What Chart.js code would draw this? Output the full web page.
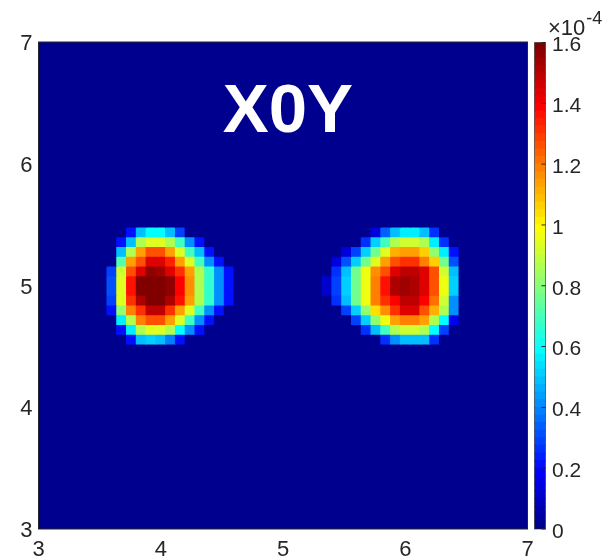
<!DOCTYPE html>
<html>
<head>
<meta charset="utf-8">
<script src="https://cdn.jsdelivr.net/npm/chart.js@4/dist/chart.umd.min.js"></script>
<style>
  body { margin: 0; background: #fff; }
  #wrap { position: relative; width: 605px; height: 559px; }
  #cbar { position: absolute; left: 527px; top: 0; }
</style>
</head>
<body>
<div id="wrap">
  <canvas id="heatmap" width="605" height="559"></canvas>
  <canvas id="cbar" width="78" height="559"></canvas>
</div>
<script>
// grid: 50 x 50 cells covering 3..7 on both axes, row 0 is the top row
const gridMin = 3;
const gridMax = 7;
const gridCount = 50;

const xTicks = [3, 4, 5, 6, 7];
const yTicks = [3, 4, 5, 6, 7];
const colorbarTicks = [0, 0.2, 0.4, 0.6, 0.8, 1, 1.2, 1.4, 1.6];
const colorMax = 1.6; // x 1e-4
const plotTitle = 'X0Y';

// left spot, values in 1e-4, rows 19..30, columns 7..19
const leftRowStart = 19;
const leftColStart = 7;
const leftValues = [
  [0, 0, 0.20, 0.48, 0.60, 0.60, 0.48, 0.30, 0, 0, 0, 0, 0],
  [0, 0.20, 0.48, 0.85, 0.93, 0.95, 0.85, 0.70, 0.42, 0.20, 0, 0, 0],
  [0, 0.48, 0.85, 1.15, 1.25, 1.25, 1.15, 0.95, 0.70, 0.48, 0.20, 0, 0],
  [0, 0.72, 1.15, 1.27, 1.43, 1.43, 1.33, 1.15, 0.95, 0.70, 0.40, 0.20, 0],
  [0.30, 0.90, 1.27, 1.45, 1.55, 1.53, 1.43, 1.32, 1.15, 0.87, 0.65, 0.40, 0.21],
  [0.32, 0.95, 1.35, 1.58, 1.60, 1.60, 1.55, 1.40, 1.17, 0.87, 0.65, 0.40, 0.21],
  [0.32, 0.95, 1.35, 1.58, 1.60, 1.60, 1.55, 1.40, 1.17, 0.87, 0.65, 0.40, 0.21],
  [0.30, 0.93, 1.32, 1.50, 1.58, 1.58, 1.50, 1.35, 1.15, 0.87, 0.65, 0.40, 0.21],
  [0.21, 0.80, 1.20, 1.30, 1.48, 1.48, 1.32, 1.15, 0.95, 0.70, 0.42, 0.20, 0],
  [0, 0.55, 0.85, 1.20, 1.25, 1.25, 1.15, 0.95, 0.70, 0.42, 0.20, 0, 0],
  [0, 0.20, 0.55, 0.85, 0.93, 0.93, 0.85, 0.60, 0.40, 0.20, 0, 0, 0],
  [0, 0, 0.20, 0.48, 0.50, 0.48, 0.38, 0.20, 0, 0, 0, 0, 0]
];

// right spot, rows 19..30, columns 29..42
const rightRowStart = 19;
const rightColStart = 29;
const rightValues = [
  [0, 0, 0, 0, 0, 0.15, 0.35, 0.48, 0.55, 0.55, 0.48, 0.25, 0, 0],
  [0, 0, 0, 0, 0.25, 0.50, 0.70, 0.85, 0.90, 0.90, 0.85, 0.55, 0.25, 0],
  [0, 0, 0.15, 0.30, 0.50, 0.75, 0.95, 1.12, 1.15, 1.15, 1.05, 0.82, 0.55, 0.20],
  [0, 0.15, 0.32, 0.50, 0.75, 0.95, 1.15, 1.27, 1.32, 1.32, 1.20, 1.05, 0.75, 0.32],
  [0, 0.25, 0.48, 0.75, 0.97, 1.17, 1.27, 1.43, 1.48, 1.48, 1.43, 1.27, 0.90, 0.48],
  [0.12, 0.30, 0.50, 0.75, 0.97, 1.20, 1.37, 1.51, 1.54, 1.51, 1.45, 1.27, 0.97, 0.50],
  [0.12, 0.30, 0.50, 0.75, 0.97, 1.20, 1.37, 1.51, 1.54, 1.51, 1.45, 1.27, 0.97, 0.50],
  [0, 0.27, 0.48, 0.75, 0.97, 1.20, 1.32, 1.40, 1.48, 1.48, 1.40, 1.22, 0.90, 0.42],
  [0, 0, 0.30, 0.50, 0.82, 1.03, 1.17, 1.30, 1.43, 1.43, 1.25, 1.12, 0.85, 0.42],
  [0, 0, 0, 0.30, 0.50, 0.80, 0.97, 1.15, 1.20, 1.20, 1.15, 0.85, 0.60, 0.17],
  [0, 0, 0, 0, 0.27, 0.48, 0.70, 0.85, 0.90, 0.90, 0.85, 0.60, 0.30, 0],
  [0, 0, 0, 0, 0, 0, 0.25, 0.42, 0.48, 0.48, 0.48, 0.25, 0, 0]
];

const textColor = '#262626';
const fontFamily = '"Liberation Sans", Arial, Helvetica, sans-serif';

// matlab jet(64)
function jetColor(i) {
  const u = (j) => {
    if (j < 1 || j > 47) return 0;
    if (j <= 16) return j / 16;
    if (j <= 31) return 1;
    return (48 - j) / 16;
  };
  const k = i + 1;
  const r = Math.round(u(k - 24) * 255);
  const g = Math.round(u(k - 8) * 255);
  const b = Math.round(u(k + 8) * 255);
  return `rgb(${r},${g},${b})`;
}
function valueColor(v) {
  let idx = Math.floor(v / colorMax * 64);
  if (idx < 0) idx = 0;
  if (idx > 63) idx = 63;
  return jetColor(idx);
}

// full field, zero everywhere except the two spots
let field = [];
for (let r = 0; r < gridCount; r++) {
  field.push(new Array(gridCount).fill(0));
}
function putSpot(values, rowStart, colStart) {
  values.forEach((row, i) => {
    row.forEach((v, j) => { field[rowStart + i][colStart + j] = v; });
  });
}
putSpot(leftValues, leftRowStart, leftColStart);
putSpot(rightValues, rightRowStart, rightColStart);

const step = (gridMax - gridMin) / gridCount;

// one floating-bar dataset per grid row
let datasets = field.map((row, r) => {
  const yHi = gridMax - r * step;
  const yLo = yHi - step;
  return {
    data: row.map((v, c) => ({ x: gridMin + (c + 0.5) * step, y: [yLo, yHi], v: v })),
    backgroundColor: row.map(v => valueColor(v)),
    borderWidth: 0,
    grouped: false,
    barPercentage: 1,
    categoryPercentage: 1,
    inflateAmount: 0.5
  };
});

const heatmapPlugin = {
  id: 'heatmapExtras',
  beforeDatasetsDraw(chart) {
    const { ctx, chartArea } = chart;
    ctx.save();
    ctx.fillStyle = valueColor(0);
    ctx.fillRect(chartArea.left, chartArea.top, chartArea.width, chartArea.height);
    ctx.restore();
  },
  afterDraw(chart) {
    const { ctx, chartArea, scales } = chart;
    ctx.save();
    ctx.strokeStyle = textColor;
    ctx.lineWidth = 1;
    ctx.strokeRect(chartArea.left, chartArea.top, chartArea.width, chartArea.height);
    // title inside the plot
    ctx.fillStyle = '#ffffff';
    ctx.font = 'bold 69px ' + fontFamily;
    ctx.textAlign = 'center';
    ctx.textBaseline = 'middle';
    ctx.fillText(plotTitle, scales.x.getPixelForValue(5.04), scales.y.getPixelForValue(6.42));
    ctx.restore();
  }
};

new Chart(document.getElementById('heatmap'), {
  type: 'bar',
  data: { datasets: datasets },
  options: {
    responsive: false,
    animation: false,
    events: [],
    layout: { padding: { left: 0, right: 77.5, top: 42, bottom: 0 } },
    plugins: { legend: { display: false }, tooltip: { enabled: false } },
    scales: {
      x: {
        type: 'linear',
        min: gridMin,
        max: gridMax,
        offset: false,
        grid: { display: false, drawTicks: false },
        border: { display: false },
        afterBuildTicks: (scale) => { scale.ticks = xTicks.map(v => ({ value: v })); },
        afterFit: (scale) => { scale.height = 30; },
        ticks: {
          padding: 8,
          color: textColor,
          font: { family: fontFamily, size: 22 },
          maxRotation: 0,
          autoSkip: false
        }
      },
      y: {
        type: 'linear',
        min: gridMin,
        max: gridMax,
        grid: { display: false, drawTicks: false },
        border: { display: false },
        afterBuildTicks: (scale) => { scale.ticks = yTicks.map(v => ({ value: v })); },
        afterFit: (scale) => { scale.width = 38.5; },
        ticks: {
          padding: 6,
          labelOffset: 2,
          color: textColor,
          font: { family: fontFamily, size: 22 },
          autoSkip: false
        }
      }
    }
  },
  plugins: [heatmapPlugin]
});

// colorbar: 64 stacked slices of the jet map
let cbarSets = [];
for (let i = 0; i < 64; i++) {
  cbarSets.push({
    data: [colorMax / 64],
    backgroundColor: jetColor(i),
    borderWidth: 0,
    barPercentage: 1,
    categoryPercentage: 1,
    inflateAmount: 0.5
  });
}

const cbarPlugin = {
  id: 'cbarExtras',
  afterDraw(chart) {
    const { ctx, chartArea, scales } = chart;
    ctx.save();
    ctx.strokeStyle = 'rgba(38,38,38,0.6)';
    ctx.lineWidth = 1;
    ctx.strokeRect(chartArea.left, chartArea.top, chartArea.width, chartArea.height);
    // small inward ticks
    ctx.strokeStyle = textColor;
    colorbarTicks.forEach(v => {
      const y = scales.y.getPixelForValue(v);
      ctx.beginPath();
      ctx.moveTo(chartArea.right - 4, y);
      ctx.lineTo(chartArea.right, y);
      ctx.stroke();
    });
    // x10^-4 multiplier
    ctx.fillStyle = textColor;
    ctx.textBaseline = 'alphabetic';
    ctx.textAlign = 'left';
    ctx.font = '22px ' + fontFamily;
    const x0 = chartArea.left + 13.5;
    ctx.fillText('\u00d710', x0, 35);
    const w = ctx.measureText('\u00d710').width;
    ctx.font = '18px ' + fontFamily;
    ctx.fillText('-4', x0 + w + 1, 24);
    ctx.restore();
  }
};

new Chart(document.getElementById('cbar'), {
  type: 'bar',
  data: { labels: [''], datasets: cbarSets },
  options: {
    responsive: false,
    animation: false,
    events: [],
    layout: { padding: { left: 7.5, right: 0, top: 42.5, bottom: 30 } },
    plugins: { legend: { display: false }, tooltip: { enabled: false } },
    scales: {
      x: { stacked: true, display: false },
      y: {
        stacked: true,
        position: 'right',
        min: 0,
        max: colorMax,
        grid: { display: false, drawTicks: false },
        border: { display: false },
        afterBuildTicks: (scale) => { scale.ticks = colorbarTicks.map(v => ({ value: v })); },
        afterFit: (scale) => { scale.width = 59.5; },
        ticks: {
          padding: 6.5,
          labelOffset: 3,
          color: textColor,
          font: { family: fontFamily, size: 21 },
          callback: (v) => String(Math.round(v * 10) / 10)
        }
      }
    }
  },
  plugins: [cbarPlugin]
});
</script>
</body>
</html>
